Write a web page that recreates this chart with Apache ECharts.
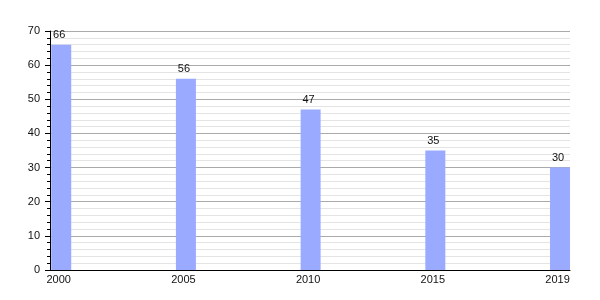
<!DOCTYPE html>
<html><head><meta charset="utf-8">
<script src="https://cdn.jsdelivr.net/npm/echarts@6/dist/echarts.min.js"></script>
<style>html,body{margin:0;padding:0;background:#fff}#c{width:600px;height:300px}</style>
</head><body><div id="c"></div>
<script>
var years = ['2000', '2005', '2010', '2015', '2019'];
var values = [66, 56, 47, 35, 30];
var yTicks = [0, 10, 20, 30, 40, 50, 60, 70];

var chart = echarts.init(document.getElementById('c'), null, {renderer: 'canvas'});
var font = {fontFamily: 'Liberation Sans, Arial, sans-serif', fontSize: 11, color: '#111'};
chart.setOption({
  animation: false,
  backgroundColor: '#fff',
  grid: {left: 50, right: 30, top: 31, bottom: 30},
  xAxis: {
    type: 'value', min: -0.09, max: 4.08,
    axisLine: {show: true, onZero: false, lineStyle: {color: '#000', width: 1}},
    axisTick: {show: false},
    splitLine: {show: false},
    axisLabel: Object.assign({
      customValues: years.map(function (y, i) { return i; }),
      formatter: function (v) { return years[Math.round(v)]; },
      margin: 4, padding: [0, 5, 0, 0]
    }, font)
  },
  yAxis: {
    type: 'value', min: yTicks[0], max: yTicks[yTicks.length - 1], interval: 10,
    axisLine: {show: true, onZero: false, lineStyle: {color: '#000', width: 1}},
    axisTick: {show: true, length: 5, lineStyle: {color: '#000'}},
    minorTick: {show: true, splitNumber: 5, length: 3, lineStyle: {color: '#000'}},
    splitLine: {show: true, lineStyle: {color: '#aaaaaa', width: 1}},
    minorSplitLine: {show: true, lineStyle: {color: '#e4e4e4', width: 1}},
    axisLabel: Object.assign({margin: 10}, font)
  },
  series: [{
    type: 'bar',
    barWidth: 20,
    itemStyle: {color: '#9aabff'},
    data: values.map(function (v, i) { return [i, v]; }),
    label: Object.assign({show: true, position: 'top', distance: 4, offset: [-2, 0],
      formatter: function (p) { return p.value[1]; }}, font)
  }]
});
</script></body></html>
